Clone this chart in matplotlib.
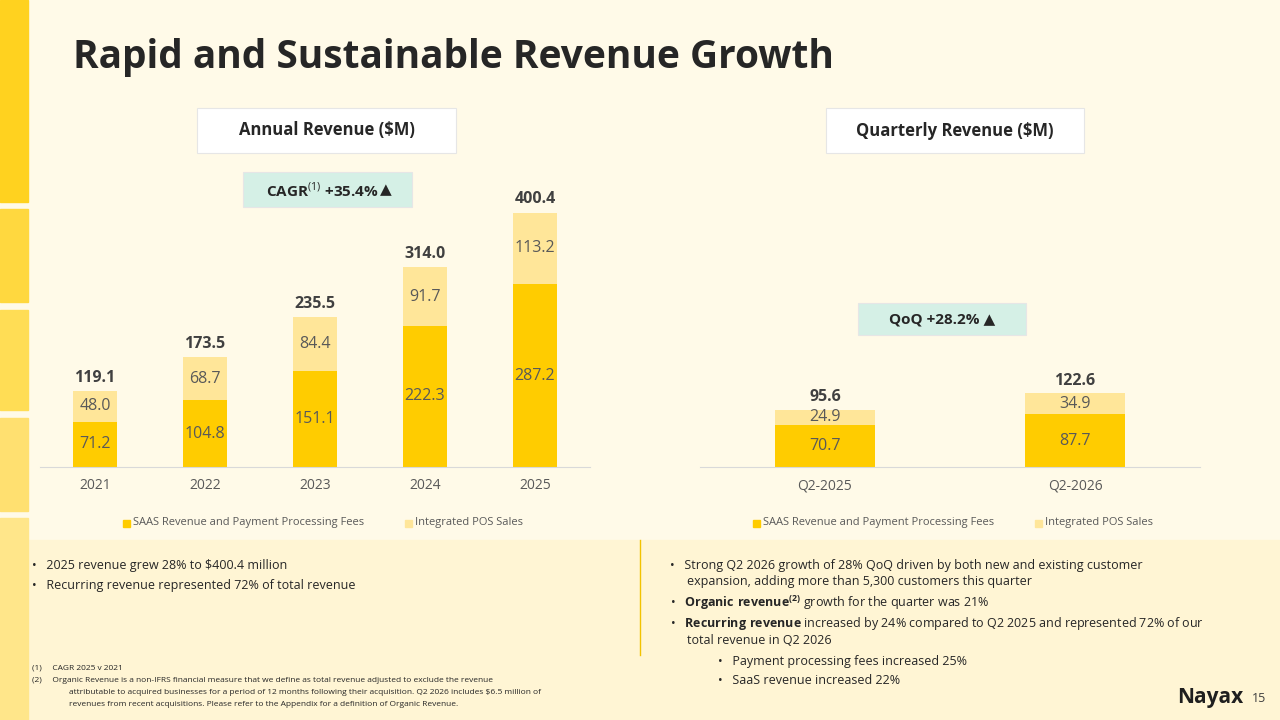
import matplotlib.pyplot as plt
from matplotlib.patches import Rectangle, FancyBboxPatch

plt.rcParams['font.family'] = ['Open Sans', 'DejaVu Sans']
plt.rcParams['mathtext.fontset'] = 'custom'
plt.rcParams['mathtext.rm'] = 'Open Sans'
plt.rcParams['mathtext.bf'] = 'Open Sans:bold'

years = ['2021', '2022', '2023', '2024', '2025']
saas = [71.2, 104.8, 151.1, 222.3, 287.2]
pos = [48.0, 68.7, 84.4, 91.7, 113.2]
totals = [119.1, 173.5, 235.5, 314.0, 400.4]
quarters = ['Q2-2025', 'Q2-2026']
q_saas = [70.7, 87.7]
q_pos = [24.9, 34.9]
q_totals = [95.6, 122.6]
dark, light = '#FFCC00', '#FFE699'

fig = plt.figure(figsize=(12.8, 7.2), dpi=100)
fig.patch.set_facecolor('#FFFAE8')
# bottom band and side strip
fig.patches.append(Rectangle((0, 0), 1, 0.25, transform=fig.transFigure, color='#FFF5D4', zorder=-2))
for y0, y1, c in [(0.72, 1.0, '#FFD21F'), (0.58, 0.71, '#FFD83F'), (0.43, 0.57, '#FFDD55'),
                  (0.29, 0.42, '#FFE070'), (0.0, 0.28, '#FFE68A')]:
    fig.patches.append(Rectangle((0, y0), 0.022, y1 - y0, transform=fig.transFigure, color=c, zorder=-1))
fig.text(0.057, 0.92, 'Rapid and Sustainable Revenue Growth', fontsize=28, fontweight='bold', color='#262626', va='center')


def panel(rect, cats, a, b, tot, height_top):
    ax = plt.axes(rect)
    ax.set_facecolor('none')
    x = range(len(cats))
    plt.bar(x, a, width=0.4, color=dark)
    plt.bar(x, b, width=0.4, bottom=a, color=light)
    for i in x:
        plt.text(i, a[i] / 2, f'{a[i]:.1f}', ha='center', va='center', fontsize=11.5, color='#595959')
        plt.text(i, a[i] + b[i] / 2, f'{b[i]:.1f}', ha='center', va='center', fontsize=11.5, color='#595959')
        plt.text(i, tot[i] + 8, f'{tot[i]:.1f}', ha='center', va='bottom', fontsize=11.5,
                 fontweight='bold', color='#404040')
    plt.xlim(-0.5, len(cats) - 0.5)
    plt.ylim(0, height_top)
    plt.xticks(list(x), cats, fontsize=10, color='#595959')
    plt.yticks([])
    for s in ['left', 'right', 'top']:
        ax.spines[s].set_visible(False)
    ax.spines['bottom'].set_color('#D9D9D9')
    ax.tick_params(axis='x', length=0, pad=8)
    return ax


panel([40 / 1280, 253 / 720, 550 / 1280, 286 / 720], years, saas, pos, totals, 450)
panel([700 / 1280, 253 / 720, 500 / 1280, 270 / 720], quarters, q_saas, q_pos, q_totals, 450)

# legends
for cx in [325, 955]:
    fig.patches.append(Rectangle(((cx - 202) / 1280, 193 / 720), 7 / 1280, 7 / 720, transform=fig.transFigure, color=dark))
    fig.text((cx - 192) / 1280, 197 / 720, 'SAAS Revenue and Payment Processing Fees', fontsize=8, color='#595959', va='center')
    fig.patches.append(Rectangle(((cx + 80) / 1280, 193 / 720), 7 / 1280, 7 / 720, transform=fig.transFigure, color=light))
    fig.text((cx + 90) / 1280, 197 / 720, 'Integrated POS Sales', fontsize=8, color='#595959', va='center')


def box(x0, y0, w, h, text, fc, size=12):
    fig.patches.append(FancyBboxPatch((x0 / 1280, 1 - (y0 + h) / 720), w / 1280, h / 720, boxstyle='square,pad=0',
                                      transform=fig.transFigure, fc=fc, ec='#E6E6E6', lw=0.8))
    fig.text((x0 + w / 2) / 1280, 1 - (y0 + h / 2) / 720, text, ha='center', va='center', fontsize=size,
             fontweight='bold', color='#262626')


box(197, 108, 259, 45, 'Annual Revenue ($M)', 'white')
box(826, 108, 258, 45, 'Quarterly Revenue ($M)', 'white')
box(243, 172, 169, 35, '', '#D5F0E6')
fig.text(322 / 1280, 1 - 190 / 720, 'CAGR$^{(1)}$ +35.4%', ha='center', va='center', fontsize=11,
         fontweight='bold', color='#262626')
fig.text(386 / 1280, 1 - 190 / 720, '\u25B2', ha='center', va='center', fontsize=11, color='#262626',
         family='DejaVu Sans')
box(858, 303, 168, 32, 'QoQ +28.2% \u25B2', '#D5F0E6', size=11)

fig.lines.append(plt.Line2D([640 / 1280, 640 / 1280], [0.09, 0.25], transform=fig.transFigure, color='#F2C200', lw=1))

left = ['2025 revenue grew 28% to $400.4 million', 'Recurring revenue represented 72% of total revenue']
for i, t in enumerate(left):
    fig.text(32 / 1280, 1 - (565 + i * 20) / 720, '\u2022   ' + t, fontsize=9, color='#262626', va='center')

right = [(670, 565, '\u2022   Strong Q2 2026 growth of 28% QoQ driven by both new and existing customer'),
         (687, 582, 'expansion, adding more than 5,300 customers this quarter'),
         (670, 603, '\u2022   $\\bf{Organic\\ revenue}^{(2)}$ growth for the quarter was 21%'),
         (670, 623, '\u2022   $\\bf{Recurring\\ revenue}$ increased by 24% compared to Q2 2025 and represented 72% of our'),
         (687, 640, 'total revenue in Q2 2026'),
         (718, 661, '\u2022   Payment processing fees increased 25%'),
         (718, 681, '\u2022   SaaS revenue increased 22%')]
for x0, y0, t in right:
    fig.text(x0 / 1280, 1 - y0 / 720, t, fontsize=9, color='#262626', va='center')

notes = [(32, 668, '(1)     CAGR 2025 v 2021'),
         (32, 680, '(2)     Organic Revenue is a non-IFRS financial measure that we define as total revenue adjusted to exclude the revenue'),
         (69, 692, 'attributable to acquired businesses for a period of 12 months following their acquisition. Q2 2026 includes $6.5 million of'),
         (69, 704, 'revenues from recent acquisitions. Please refer to the Appendix for a definition of Organic Revenue.')]
for x0, y0, t in notes:
    fig.text(x0 / 1280, 1 - y0 / 720, t, fontsize=6, color='#262626', va='center')

fig.text(1177 / 1280, 1 - 698 / 720, 'Nayax', fontsize=15, fontweight='bold', color='#1F1F1F', va='center')
fig.text(1252 / 1280, 1 - 698 / 720, '15', fontsize=9, color='#404040', va='center')

plt.savefig('out.png', dpi=100, facecolor=fig.get_facecolor())
